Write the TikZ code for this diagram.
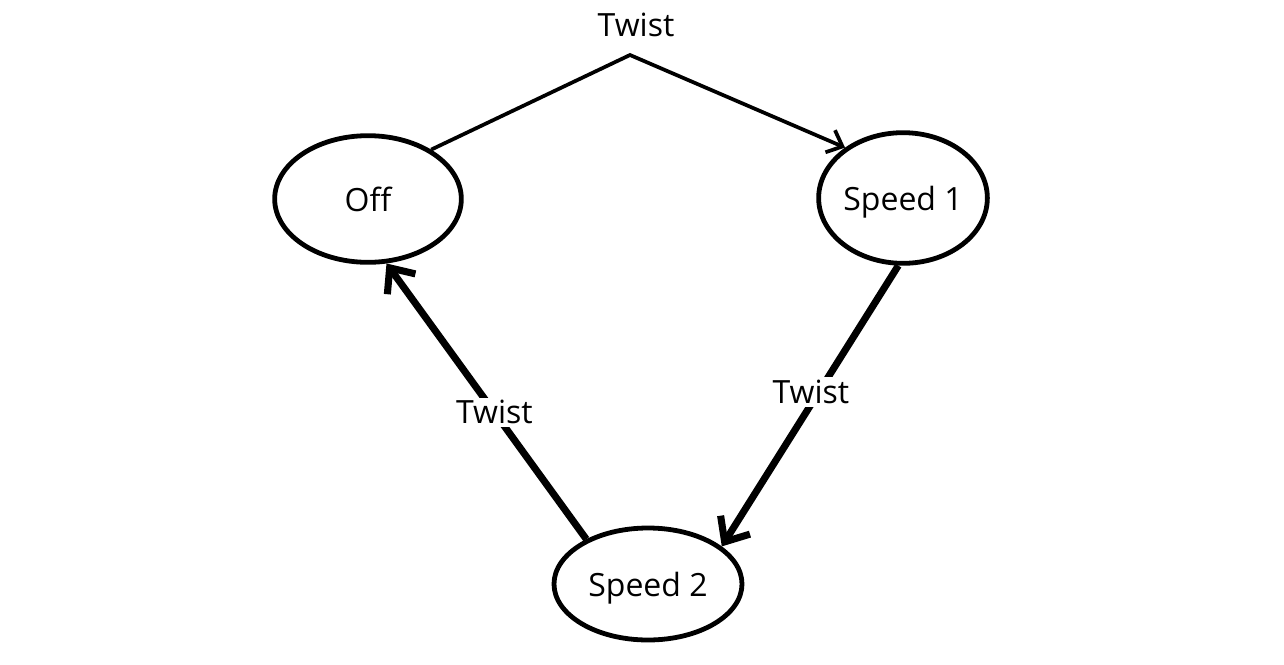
\documentclass[tikz,border=0pt]{standalone}
\usepackage{fontspec}
\setmainfont{Open Sans}
\usetikzlibrary{shapes.geometric,arrows.meta}
\tikzset{
  state/.style={draw, ellipse, line width=3.6pt, inner sep=0pt, text depth=0pt, font=\fontsize{24}{29}\selectfont},
  thinedge/.style={line width=2.8pt, -{Straight Barb[length=10pt,width=18pt,line width=2.8pt]}},
  thickedge/.style={line width=5.3pt, -{Straight Barb[length=15pt,width=26pt,line width=5.3pt]}},
  lbl/.style={fill=white, inner sep=2pt, font=\fontsize{24}{29}\selectfont}
}
\begin{document}
\begin{tikzpicture}[x=0.75pt,y=0.75pt,yscale=-1,xscale=1]
    \useasboundingbox (0,0) rectangle (1284,664);
    % States
    \node [state, minimum width=140pt, minimum height=95pt] (off) at (368,199) {Off};
    \node [state, minimum width=120pt, minimum height=98pt] (s1) at (903,198) {Speed 1};
    \node [state, minimum width=141pt, minimum height=84pt] (s2) at (648,584) {Speed 2};
    \coordinate (peak) at (630,55);
    % Edges
    \draw [thinedge, line join=miter] (off.38) -- (peak) -- (s1.139);
    \node [font=\fontsize{24}{29}\selectfont] (t1) at (636,25) {Twist};
    \draw [thickedge] (s1.-94) -- node [lbl, pos=0.45, xshift=-6pt] (t2) {Twist} (s2.27);
    \draw [thickedge] (s2.144) -- node [lbl, pos=0.46] (t3) {Twist} (off.-74);
\end{tikzpicture}
\end{document}
